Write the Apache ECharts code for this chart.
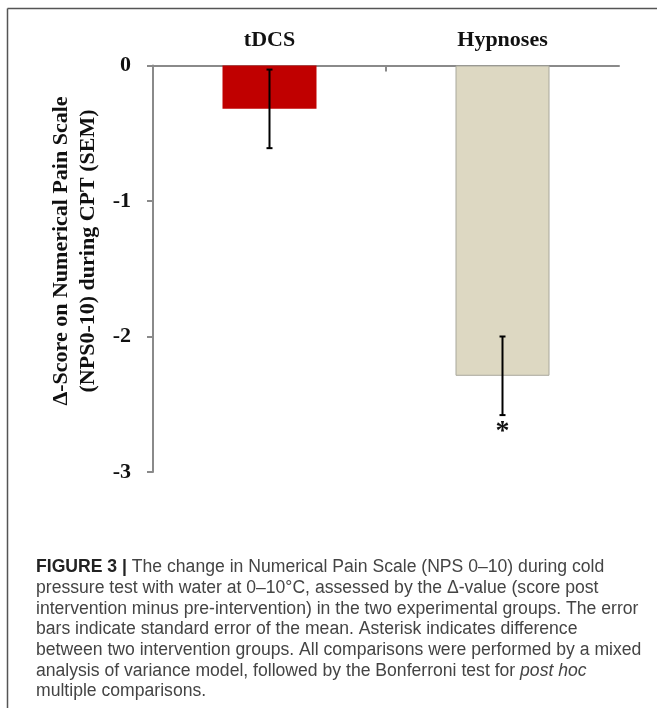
<!DOCTYPE html>
<html>
<head>
<meta charset="utf-8">
<style>
  html, body { margin: 0; padding: 0; background: #ffffff; }
  #chart { width: 657px; height: 708px; }
</style>
<script src="https://cdn.jsdelivr.net/npm/echarts@6/dist/echarts.min.js"></script>
</head>
<body>
<div id="chart"></div>
<script>
// ---- data ----
var categories = ['tDCS', 'Hypnoses'];
var meanDelta = [-0.32, -2.29];
var semDelta = [0.29, 0.29];
var significance = ['', '*'];
var yTicks = [0, -1, -2, -3];
var barColors = ['#c00000', '#ddd8c2'];
var barBorders = ['#c00000', '#a9a89c'];
var yTitleLines = ['\u0394-Score on Numerical Pain Scale', '(NPS0-10) during CPT (SEM)'];
var captionLines = [
  '{b|FIGURE 3 |} The change in Numerical Pain Scale (NPS 0\u201310) during cold',
  'pressure test with water at 0\u201310\u00b0C, assessed by the \u0394-value (score post',
  'intervention minus pre-intervention) in the two experimental groups. The error',
  'bars indicate standard error of the mean. Asterisk indicates difference',
  'between two intervention groups. All comparisons were performed by a mixed',
  'analysis of variance model, followed by the Bonferroni test for {i|post hoc}',
  'multiple comparisons.'
];

var chart = echarts.init(document.getElementById('chart'), null, { renderer: 'canvas' });
var serif = "'Liberation Serif', 'DejaVu Serif', serif";
var sans = "'Liberation Sans', Arial, sans-serif";
var capSize = 17.6, capLH = 20.7;

var barData = meanDelta.map(function (v, i) {
  return { value: v, itemStyle: { color: barColors[i], borderColor: barBorders[i], borderWidth: i === 1 ? 1 : 0 } };
});
var errData = meanDelta.map(function (v, i) { return [i, v, semDelta[i]]; });

var option = {
  animation: false,
  backgroundColor: '#ffffff',
  grid: { left: 153, right: 38, top: 65.5, bottom: 236, containLabel: false },
  xAxis: {
    type: 'category',
    data: categories,
    position: 'top',
    boundaryGap: true,
    axisLine: { lineStyle: { color: '#8a8a8a', width: 2 } },
    axisTick: { show: false },
    axisLabel: { fontFamily: serif, fontWeight: 'bold', fontSize: 22, color: '#111', margin: 14 },
    splitLine: { show: false }
  },
  yAxis: {
    type: 'value',
    min: -3,
    max: 0,
    interval: 1,
    axisLine: { show: true, lineStyle: { color: '#8a8a8a', width: 2 } },
    axisTick: { show: true, inside: false, length: 6, lineStyle: { color: '#8a8a8a', width: 2 } },
    axisLabel: { fontFamily: serif, fontWeight: 'bold', fontSize: 22, color: '#111', margin: 22,
      formatter: function (v) { return yTicks.indexOf(v) >= 0 ? String(v) : ''; } },
    splitLine: { show: false }
  },
  series: [
    {
      type: 'bar',
      data: barData,
      barWidth: 94,
      z: 2
    },
    {
      type: 'custom',
      z: 5,
      data: errData,
      renderItem: function (params, api) {
        var i = api.value(0);
        var m = api.value(1);
        var s = api.value(2);
        var hi = api.coord([i, m + s]);
        var lo = api.coord([i, m - s]);
        var cap = 3;
        var children = [
          { type: 'line', shape: { x1: hi[0], y1: hi[1], x2: lo[0], y2: lo[1] }, style: { stroke: '#000', lineWidth: 2 } },
          { type: 'line', shape: { x1: hi[0] - cap, y1: hi[1], x2: hi[0] + cap, y2: hi[1] }, style: { stroke: '#000', lineWidth: 2 } },
          { type: 'line', shape: { x1: lo[0] - cap, y1: lo[1], x2: lo[0] + cap, y2: lo[1] }, style: { stroke: '#000', lineWidth: 2 } }
        ];
        // category boundary tick between neighbouring categories (inside, downward)
        if (params.dataIndex > 0) {
          var prev = api.coord([i - 1, 0]);
          var cur = api.coord([i, 0]);
          var bx = (prev[0] + cur[0]) / 2;
          children.push({ type: 'line', shape: { x1: bx, y1: cur[1], x2: bx, y2: cur[1] + 6 },
            style: { stroke: '#8a8a8a', lineWidth: 2 } });
        }
        if (significance[params.dataIndex]) {
          children.push({ type: 'text', x: lo[0], y: lo[1] + 3,
            style: { text: significance[params.dataIndex], fontFamily: serif, fontWeight: 'bold', fontSize: 28,
              fill: '#111', textAlign: 'center', textVerticalAlign: 'top' } });
        }
        return { type: 'group', children: children };
      }
    }
  ],
  graphic: [
    { type: 'line', shape: { x1: 7.5, y1: 8.5, x2: 657, y2: 8.5 }, style: { stroke: '#555', lineWidth: 1.5 }, silent: true },
    { type: 'line', shape: { x1: 7.5, y1: 8.5, x2: 7.5, y2: 708 }, style: { stroke: '#555', lineWidth: 1.5 }, silent: true },
    {
      type: 'text', x: 75, y: 251, rotation: Math.PI / 2,
      style: { text: yTitleLines.join('\n'), fontFamily: serif, fontWeight: 'bold', fontSize: 22, lineHeight: 27,
        fill: '#111', textAlign: 'center', textVerticalAlign: 'middle' }
    },
    {
      type: 'text', x: 36, y: 557,
      style: {
        text: captionLines.join('\n'),
        fontFamily: sans, fontSize: capSize, lineHeight: capLH, fill: '#444',
        textAlign: 'left', textVerticalAlign: 'top',
        rich: {
          b: { fontFamily: sans, fontWeight: 'bold', fontSize: capSize, lineHeight: capLH, fill: '#222' },
          i: { fontFamily: sans, fontStyle: 'italic', fontSize: capSize, lineHeight: capLH, fill: '#444' }
        }
      }
    }
  ]
};
chart.setOption(option);
</script>
</body>
</html>
